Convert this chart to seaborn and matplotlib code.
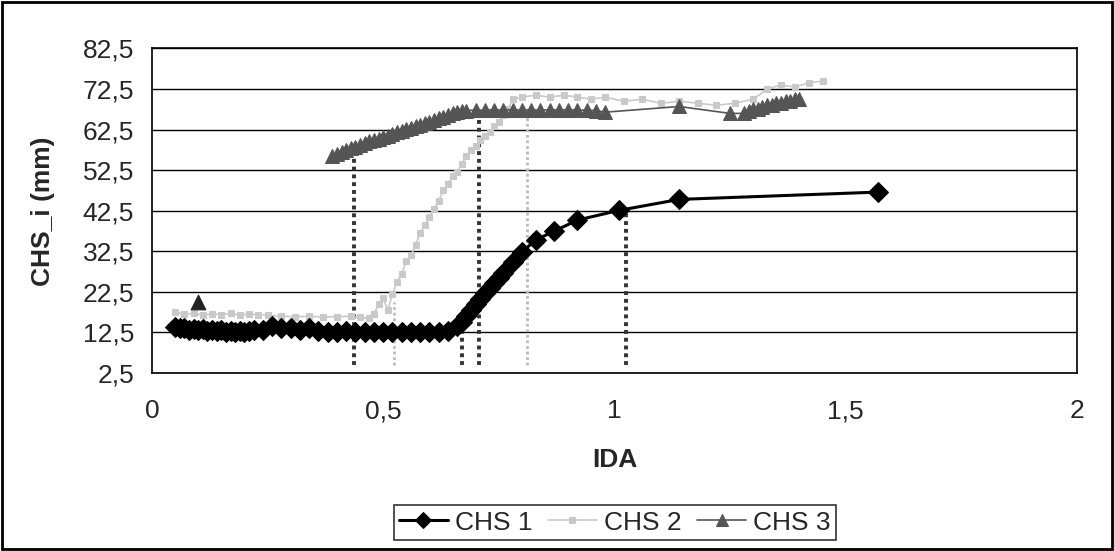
import numpy as np
import pandas as pd
import matplotlib
matplotlib.use("Agg")
import matplotlib.pyplot as plt
from matplotlib.patches import Rectangle
import seaborn as sns

sns.set_style("white")
plt.rcParams['font.family'] = ['Liberation Sans', 'DejaVu Sans']

# CHS 1 (black diamonds)
ida_1 = [0.05, 0.06, 0.07, 0.08, 0.09, 0.10, 0.11, 0.12, 0.13, 0.14, 0.15, 0.16, 0.17,
         0.18, 0.19, 0.20, 0.21, 0.22, 0.24, 0.26, 0.28, 0.30, 0.32, 0.34, 0.36, 0.38,
         0.40, 0.42, 0.44, 0.46, 0.48, 0.50, 0.52, 0.54, 0.56, 0.58, 0.60, 0.62, 0.64,
         0.66, 0.67, 0.68, 0.69, 0.70, 0.71, 0.72, 0.73, 0.74, 0.75, 0.76, 0.78, 0.80,
         0.83, 0.87, 0.92, 1.01, 1.14, 1.57]
chs_1 = [13.8, 13.5, 13.6, 13.2, 13.4, 13.0, 13.3, 12.9, 13.1, 12.8, 13.0, 12.7, 12.8,
         12.6, 12.9, 12.7, 12.8, 13.0, 13.2, 14.2, 13.6, 13.5, 13.2, 13.6, 12.8, 12.7,
         12.6, 12.8, 12.6, 12.7, 12.6, 12.7, 12.6, 12.7, 12.6, 12.7, 12.6, 12.7, 12.8,
         14.0, 15.2, 16.5, 18.0, 19.4, 20.8, 22.2, 23.5, 24.8, 26.0, 27.2, 29.8, 32.4,
         35.3, 37.5, 40.2, 42.6, 45.3, 47.1]

# CHS 2 (light grey)
ida_2 = [0.05, 0.07, 0.09, 0.11, 0.13, 0.15, 0.17, 0.19, 0.21, 0.23, 0.25, 0.28, 0.31,
         0.34, 0.37, 0.40, 0.43, 0.45, 0.47, 0.48, 0.49, 0.50, 0.51, 0.52, 0.53, 0.54,
         0.55, 0.56, 0.57, 0.58, 0.59, 0.60, 0.61, 0.62, 0.63, 0.64, 0.65, 0.66, 0.67,
         0.68, 0.69, 0.70, 0.71, 0.72, 0.73, 0.74, 0.75, 0.76, 0.77, 0.78, 0.80, 0.83,
         0.86, 0.89, 0.92, 0.95, 0.98, 1.02, 1.06, 1.10, 1.14, 1.18, 1.22, 1.26, 1.30,
         1.33, 1.36, 1.39, 1.42, 1.45]
chs_2 = [17.5, 17.0, 17.2, 16.8, 17.1, 16.9, 17.2, 16.8, 17.0, 16.9, 16.7, 16.5, 16.4,
         16.5, 16.3, 16.4, 16.5, 16.2, 16.0, 17.0, 19.5, 21.0, 18.0, 22.0, 25.0, 27.0,
         30.0, 31.5, 34.0, 37.0, 39.0, 41.0, 43.0, 45.0, 47.5, 49.0, 51.0, 52.0, 54.0,
         56.0, 57.5, 58.5, 60.0, 61.0, 62.0, 63.5, 64.5, 66.0, 67.5, 70.0, 70.5, 71.0,
         70.5, 71.0, 70.5, 70.0, 70.5, 69.5, 70.0, 69.0, 69.5, 69.0, 68.5, 69.0, 70.0,
         72.5, 73.5, 73.0, 74.0, 74.5]

# CHS 3 (dark grey triangles)
ida_3 = [0.39, 0.40, 0.41, 0.42, 0.43, 0.44, 0.45, 0.46, 0.47, 0.48, 0.49, 0.50, 0.51,
         0.52, 0.53, 0.54, 0.55, 0.56, 0.57, 0.58, 0.59, 0.60, 0.61, 0.62, 0.63, 0.64,
         0.65, 0.66, 0.67, 0.68, 0.70, 0.72, 0.74, 0.76, 0.78, 0.80, 0.82, 0.84, 0.86,
         0.88, 0.90, 0.92, 0.94, 0.96, 0.98, 1.14, 1.25, 1.28, 1.29, 1.30, 1.31, 1.32,
         1.33, 1.34, 1.35, 1.36, 1.37, 1.38, 1.39, 1.40]
chs_3 = [56.0, 56.5, 57.0, 57.5, 58.0, 58.3, 58.8, 59.2, 59.6, 60.0, 60.3, 60.7, 61.0,
         61.5, 61.8, 62.2, 62.6, 63.0, 63.3, 63.7, 64.1, 64.5, 64.9, 65.3, 65.7, 66.1,
         66.5, 66.8, 67.0, 67.2, 67.3, 67.3, 67.4, 67.3, 67.4, 67.3, 67.4, 67.3, 67.4,
         67.3, 67.4, 67.3, 67.3, 67.2, 66.8, 68.2, 66.5, 66.5, 67.0, 67.5, 67.5, 68.0,
         68.5, 68.5, 69.0, 69.0, 69.5, 69.5, 70.0, 70.0]
ida_3_single = [0.10]
chs_3_single = [20.0]

# dotted marker lines (IDA, CHS value where line starts)
dark_ida = [0.436, 0.671, 0.708, 1.025]
dark_top = [56.0, 13.0, 66.0, 42.0]
light_ida = [0.523, 0.810]
light_top = [20.0, 67.0]
line_bottom = 4.5

fig = plt.figure(figsize=(11.14, 5.51), dpi=100)
ax = fig.add_axes([0.1364, 0.323, 0.8304, 0.589])

ax.vlines(dark_ida, line_bottom, dark_top, colors="#333333", linestyles=(0, (1, 1)), lw=2.8, zorder=2)
ax.vlines(light_ida, line_bottom, light_top, colors="#bbbbbb", linestyles=(0, (1, 1)), lw=2.0, zorder=2)

sns.lineplot(x=ida_2, y=chs_2, ax=ax, sort=False, color="#c9c9c9", lw=1.2,
             marker="s", markersize=5, markeredgecolor="#c9c9c9", label="CHS 2", zorder=3)
sns.lineplot(x=ida_3, y=chs_3, ax=ax, sort=False, color="#555555", lw=1.2,
             marker="^", markersize=10, markeredgecolor="#555555", label="CHS 3", zorder=4)
sns.scatterplot(x=ida_3_single, y=chs_3_single, ax=ax, marker="^", s=110,
                color="#222222", edgecolor="#222222", zorder=4)
sns.lineplot(x=ida_1, y=chs_1, ax=ax, sort=False, color="black", lw=2.2,
             marker="D", markersize=10, markeredgecolor="black", label="CHS 1", zorder=5)

ax.set_xlim(0, 2)
ax.set_ylim(2.5, 82.5)
xt = [0, 0.5, 1, 1.5, 2]
yt = [2.5, 12.5, 22.5, 32.5, 42.5, 52.5, 62.5, 72.5, 82.5]
ax.set_xticks(xt)
ax.set_xticklabels([str(v).replace(".", ",") if v % 1 else str(int(v)) for v in xt])
ax.set_yticks(yt)
ax.set_yticklabels([str(v).replace(".", ",") for v in yt])
ax.grid(axis="y", color="black", lw=1)
ax.grid(axis="x", visible=False)
for s in ax.spines.values():
    s.set_color("black")
    s.set_linewidth(1.2)
ax.tick_params(axis="y", direction="inout", length=10, width=1, color="black", labelsize=19, pad=8)
ax.tick_params(axis="x", direction="out", length=5, width=1, color="black", labelsize=19, pad=14)
ax.set_xlabel("IDA", fontsize=19, fontweight="bold", labelpad=18)
ax.set_ylabel("CHS_i (mm)", fontsize=19, fontweight="bold", labelpad=20)

handles, labels = ax.get_legend_handles_labels()
order = [labels.index(n) for n in ["CHS 1", "CHS 2", "CHS 3"]]
leg = ax.legend([handles[i] for i in order], [labels[i] for i in order],
                ncol=3, loc="center", bbox_to_anchor=(0.5517, 0.0517),
                bbox_transform=fig.transFigure, frameon=True, fancybox=False,
                edgecolor="black", fontsize=19, handlelength=1.86, columnspacing=0.6,
                handletextpad=0.25, borderpad=0.2, borderaxespad=0, markerscale=0.8)
leg.get_frame().set_linewidth(1.2)

fig.patches.append(Rectangle((0.002, 0.003), 0.996, 0.994, transform=fig.transFigure,
                             fill=False, edgecolor="black", lw=2))

fig.savefig("out.png", dpi=100)
